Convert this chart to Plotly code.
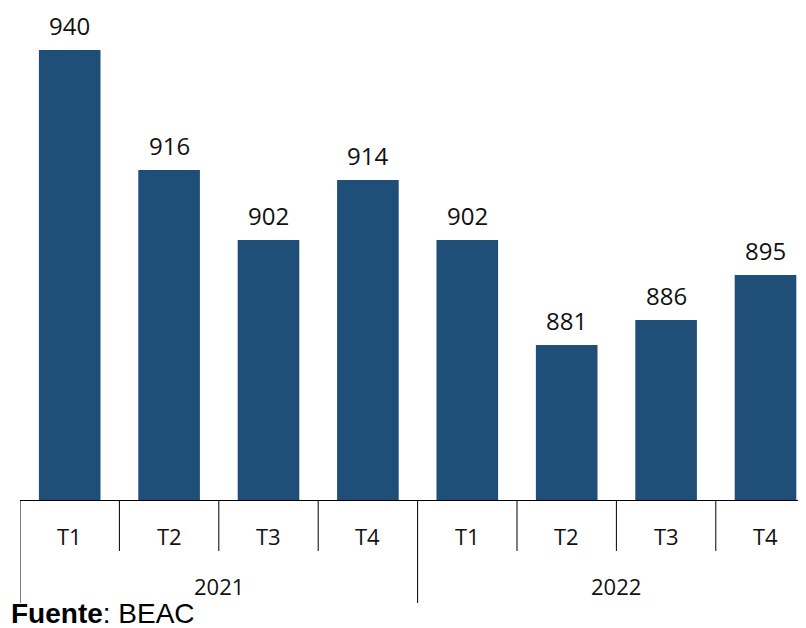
"""Bar chart: quarterly values 2021-2022 (source BEAC)."""
import plotly.graph_objects as go

YEARS = ["2021", "2022"]
QUARTERS = ["T1", "T2", "T3", "T4"]
VALUES = [940, 916, 902, 914, 902, 881, 886, 895]

BAR_COLOR = "#1f4e79"
TEXT_FONT = "Open Sans, Segoe UI, sans-serif"

n_q = len(QUARTERS)
xs = list(range(len(VALUES)))
tick_text = [QUARTERS[i % n_q] for i in xs]

# the page adds an 8px body margin, so the plot box is laid out 8px up/left
PLOT_H = 492
PLOT_W = 794


def below(px):
    """Paper y for a point px pixels under the x axis."""
    return -px / PLOT_H


fig = go.Figure(go.Bar(
    x=xs,
    y=VALUES,
    width=0.62,
    marker_color=BAR_COLOR,
    marker_line_width=0,
))

shapes = []
annotations = []
# value labels above bars
for i, v in zip(xs, VALUES):
    annotations.append(dict(
        x=i, y=v, xref="x", yref="y", text=str(v), showarrow=False,
        font=dict(size=24, color="#111111", family=TEXT_FONT),
        xanchor="center", yanchor="bottom", yshift=6,
    ))
# quarter labels and separators
for i, t in zip(xs, tick_text):
    annotations.append(dict(
        x=i, y=below(36), xref="x", yref="paper", text=t, showarrow=False,
        font=dict(size=22, color="#111111", family=TEXT_FONT),
        xanchor="center", yanchor="middle",
    ))
for b in range(len(VALUES) + 1):
    is_year = b % n_q == 0
    shapes.append(dict(
        type="line", xref="x", yref="paper",
        x0=b - 0.5, x1=b - 0.5, y0=0, y1=below(103) if is_year else below(51),
        line=dict(color="black", width=1),
    ))
for k, yr in enumerate(YEARS):
    annotations.append(dict(
        x=k * n_q + (n_q - 1) / 2, y=below(86), xref="x", yref="paper", text=yr,
        showarrow=False, font=dict(size=22, color="#111111", family=TEXT_FONT),
        xanchor="center", yanchor="middle",
    ))
annotations.append(dict(
    x=-11 / PLOT_W, y=below(113), xref="paper", yref="paper",
    text="<b>Fuente</b>: BEAC", showarrow=False,
    font=dict(size=28, color="black", family="Arial, Liberation Sans, sans-serif"),
    xanchor="left", yanchor="middle",
))

fig.update_layout(
    width=806,
    height=628,
    margin=dict(l=12, r=0, t=0, b=628 - PLOT_H, pad=0, autoexpand=False),
    plot_bgcolor="white",
    paper_bgcolor="white",
    showlegend=False,
    xaxis=dict(
        range=[-0.5, -0.5 + PLOT_W / 99.4], showticklabels=False, showgrid=False,
        zeroline=False, showline=True, linecolor="black", linewidth=1,
        ticks="", fixedrange=True,
    ),
    yaxis=dict(range=[850, 850 + PLOT_H / 5], visible=False, fixedrange=True),
    shapes=shapes,
    annotations=annotations,
)

fig.write_html("out.html")
